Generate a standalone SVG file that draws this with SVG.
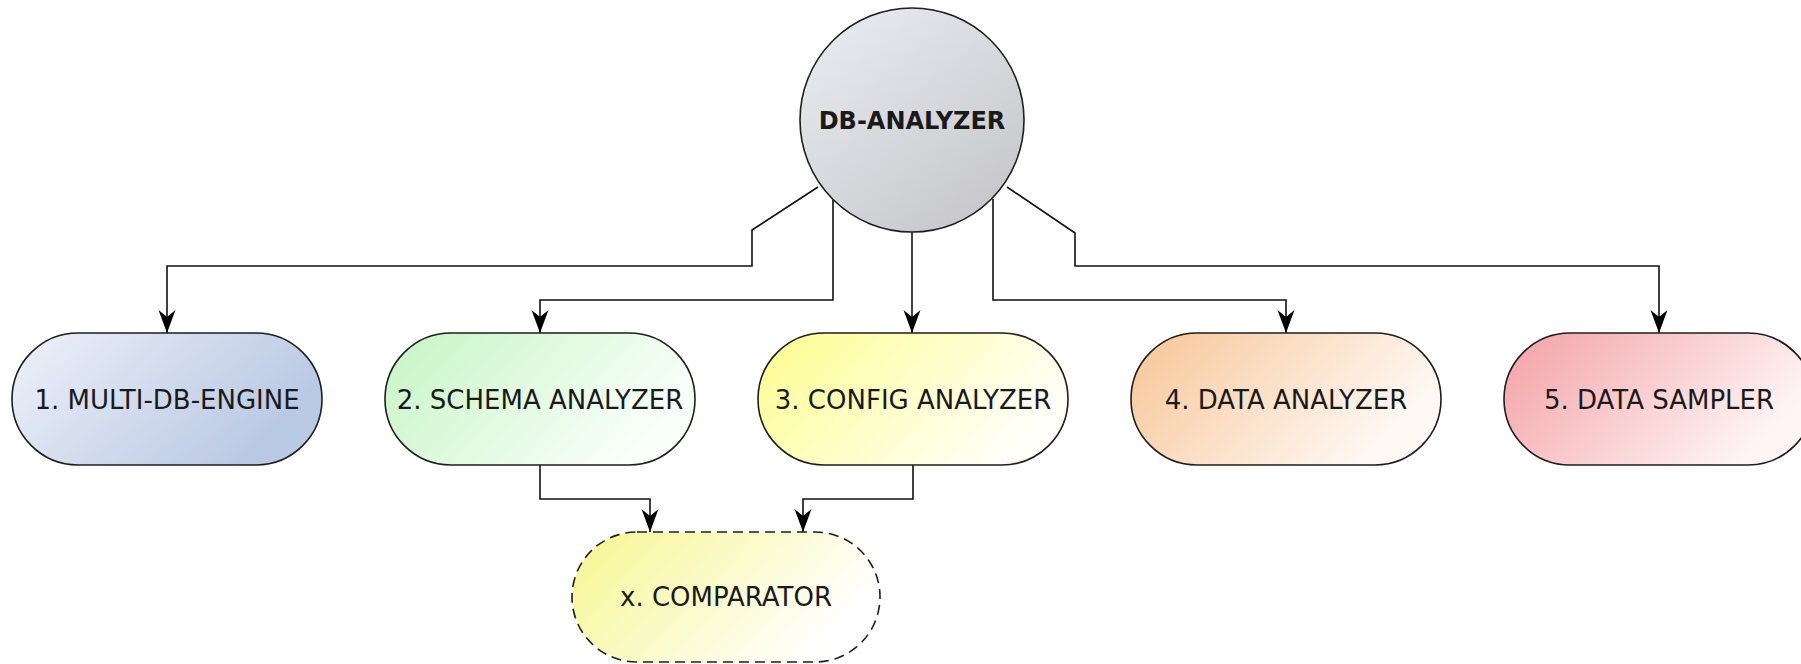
<svg xmlns="http://www.w3.org/2000/svg" width="1801" height="664" viewBox="0 0 1801 664">
<style>
.node{stroke:#1e1e1e;stroke-width:1.6}
.lbl{font-family:"DejaVu Sans","Liberation Sans",sans-serif;font-size:26px;fill:#1a1a1a;text-anchor:middle}
.title{font-family:"DejaVu Sans","Liberation Sans",sans-serif;font-size:24px;font-weight:bold;fill:#1a1a1a;text-anchor:middle}
.edge{fill:none;stroke:#111;stroke-width:1.6;marker-end:url(#arr)}
</style>
<defs>
<marker id="arr" viewBox="0 0 24 20" refX="24" refY="10" markerWidth="24" markerHeight="20" markerUnits="userSpaceOnUse" orient="auto">
<path d="M24,10 L1,1.5 L8,10 L1,18.5 Z" fill="#000"/>
</marker>
<linearGradient id="gC" x1="0" y1="0" x2="0.8" y2="1"><stop offset="0" stop-color="#eceef3"/><stop offset="1" stop-color="#c6c6ca"/></linearGradient>
<linearGradient id="g1" x1="0" y1="0" x2="1" y2="0.4"><stop offset="0" stop-color="#eef1f9"/><stop offset="1" stop-color="#b9c8e3"/></linearGradient>
<linearGradient id="g2" x1="0" y1="0" x2="1" y2="0.4"><stop offset="0" stop-color="#c6f5c4"/><stop offset="1" stop-color="#f9fff9"/></linearGradient>
<linearGradient id="g3" x1="0" y1="0" x2="1" y2="0.4"><stop offset="0" stop-color="#fdfd8e"/><stop offset="1" stop-color="#fffff8"/></linearGradient>
<linearGradient id="g4" x1="0" y1="0" x2="1" y2="0.4"><stop offset="0" stop-color="#f7c596"/><stop offset="1" stop-color="#fff9f5"/></linearGradient>
<linearGradient id="g5" x1="0" y1="0" x2="1" y2="0.4"><stop offset="0" stop-color="#f3a0a4"/><stop offset="1" stop-color="#fff5f5"/></linearGradient>
<linearGradient id="gX" x1="0" y1="0" x2="1" y2="0.4"><stop offset="0" stop-color="#f6f690"/><stop offset="1" stop-color="#ffffff"/></linearGradient>
</defs>
<rect width="1801" height="664" fill="#ffffff"/>
<g id="connectors">
<path class="edge" d="M818,187 L752,230 L752,266 L167,266 L167,333"/>
<path class="edge" d="M833,199 L833,300 L540,300 L540,333"/>
<path class="edge" d="M912,232 L912,333"/>
<path class="edge" d="M993,199 L993,300 L1286,300 L1286,333"/>
<path class="edge" d="M1007,187 L1075,233 L1075,266 L1659,266 L1659,333"/>
<path class="edge" d="M540,465 L540,499 L650,499 L650,532"/>
<path class="edge" d="M913,465 L913,499 L803,499 L803,532"/>
</g>
<g id="db-analyzer">
<circle class="node" cx="912" cy="120" r="112" fill="url(#gC)"/>
<text class="title" x="912" y="129">DB-ANALYZER</text>
</g>
<g id="multi-db-engine">
<rect class="node" x="12" y="333" width="310" height="132" rx="66" fill="url(#g1)"/>
<text class="lbl" x="167" y="409">1. MULTI-DB-ENGINE</text>
</g>
<g id="schema-analyzer">
<rect class="node" x="385" y="333" width="310" height="132" rx="66" fill="url(#g2)"/>
<text class="lbl" x="540" y="409">2. SCHEMA ANALYZER</text>
</g>
<g id="config-analyzer">
<rect class="node" x="758" y="333" width="310" height="132" rx="66" fill="url(#g3)"/>
<text class="lbl" x="913" y="409">3. CONFIG ANALYZER</text>
</g>
<g id="data-analyzer">
<rect class="node" x="1131" y="333" width="310" height="132" rx="66" fill="url(#g4)"/>
<text class="lbl" x="1286" y="409">4. DATA ANALYZER</text>
</g>
<g id="data-sampler">
<rect class="node" x="1504" y="333" width="310" height="132" rx="66" fill="url(#g5)"/>
<text class="lbl" x="1659" y="409">5. DATA SAMPLER</text>
</g>
<g id="comparator">
<rect class="node" x="572" y="532" width="308" height="130" rx="65" fill="url(#gX)" stroke-dasharray="10 6"/>
<text class="lbl" x="726" y="606">x. COMPARATOR</text>
</g>
</svg>
